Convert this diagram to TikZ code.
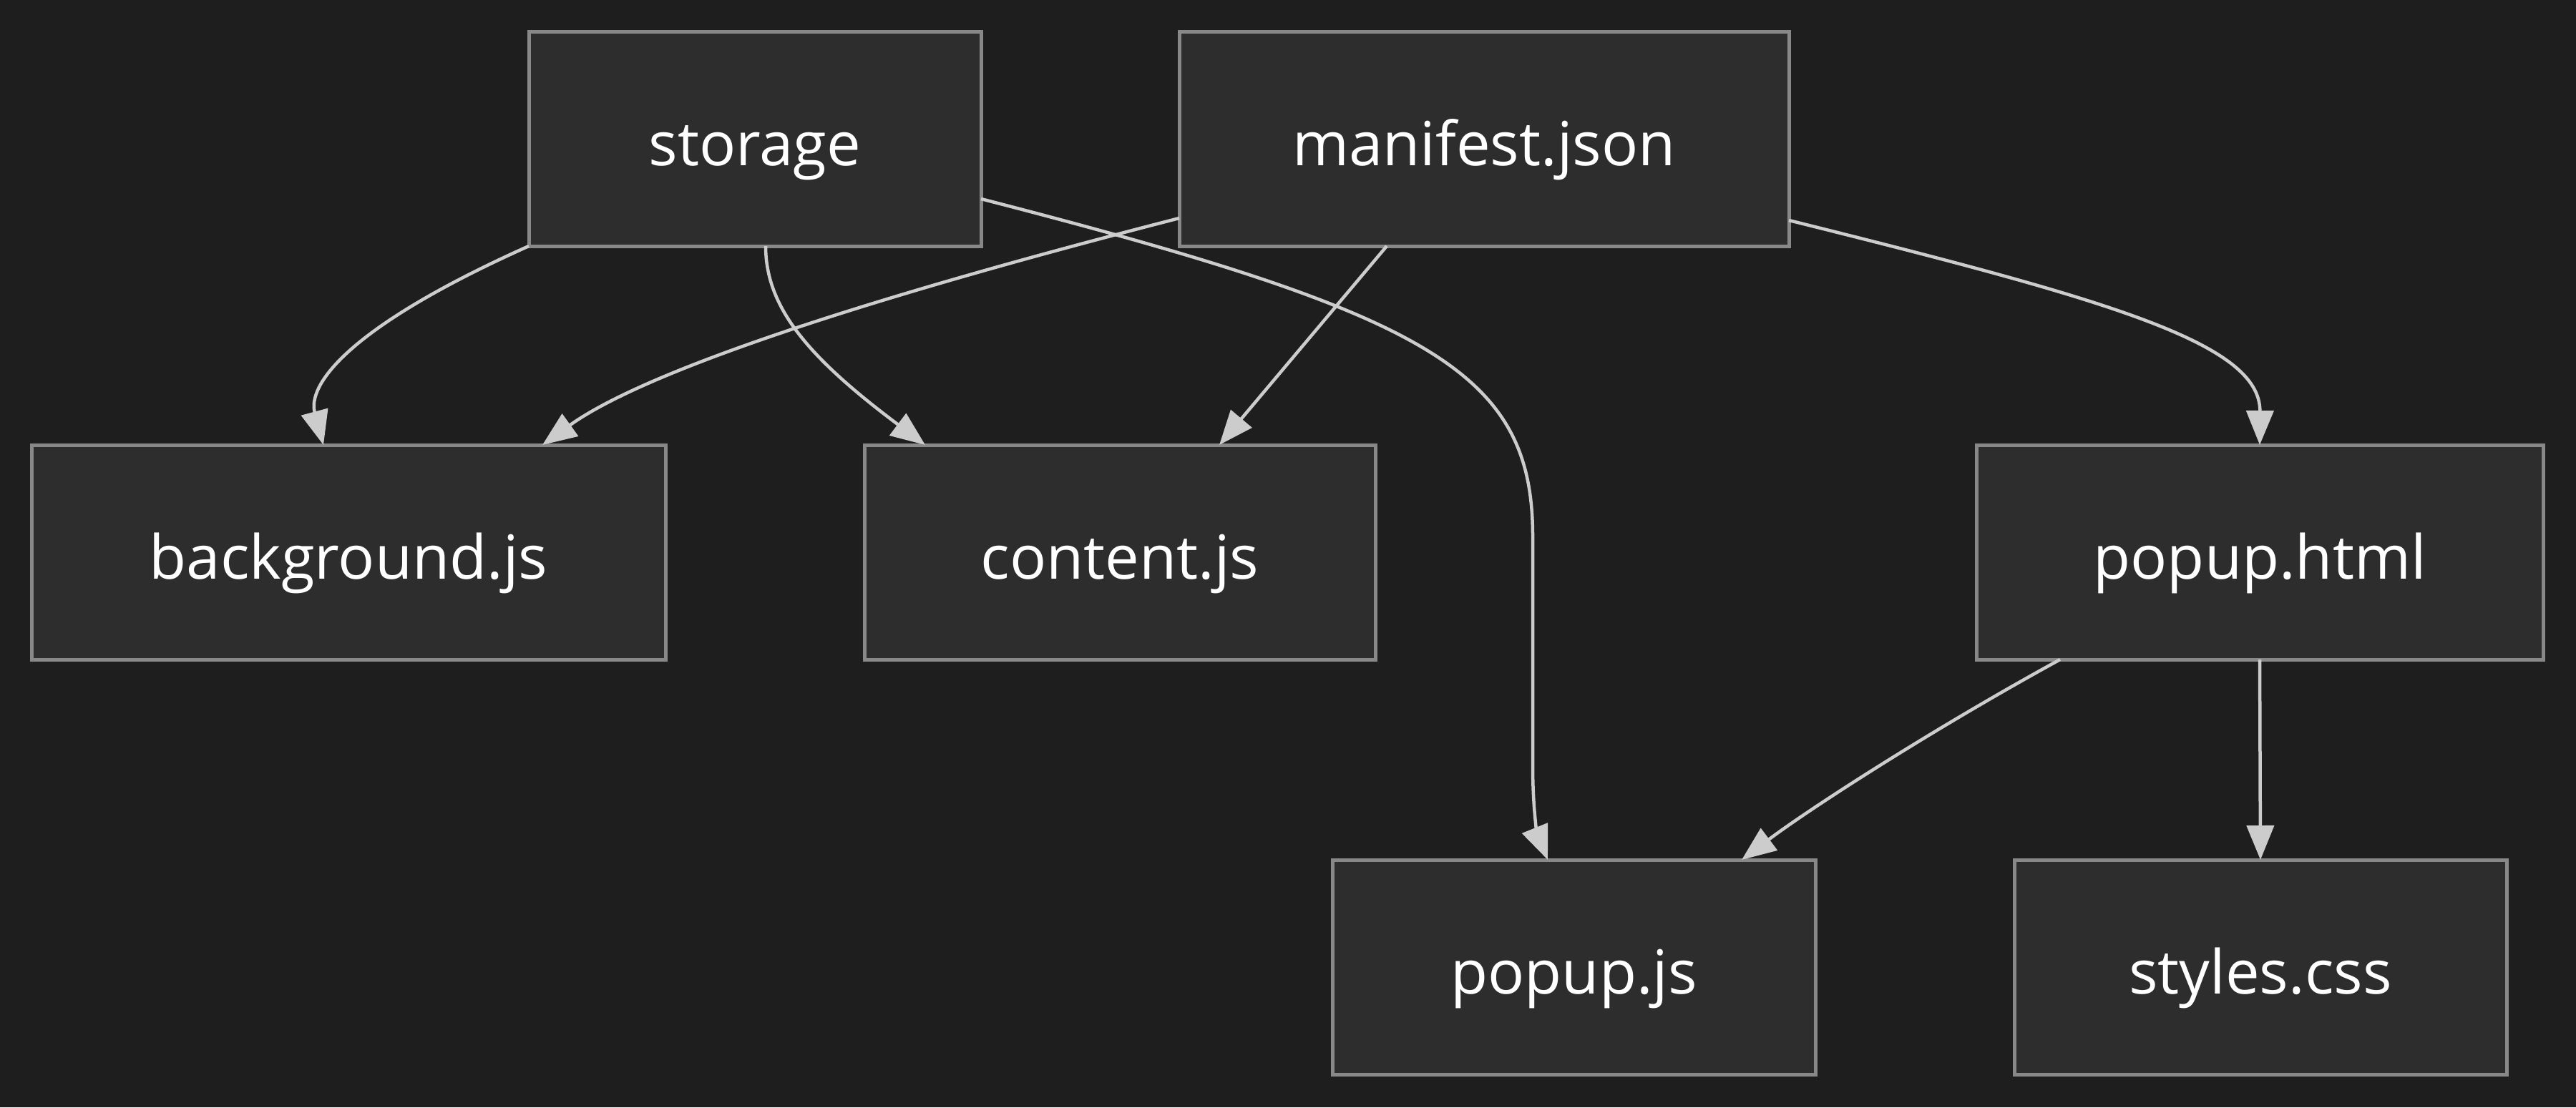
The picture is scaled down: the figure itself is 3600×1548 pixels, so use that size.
\documentclass[tikz,border=0pt]{standalone}
\usepackage{fontspec}
\setmainfont{Open Sans}
\usetikzlibrary{arrows.meta,calc}
\definecolor{bgc}{HTML}{1E1E1E}
\definecolor{boxfill}{HTML}{2D2D2D}
\definecolor{boxline}{HTML}{888888}
\definecolor{edgec}{HTML}{CCCCCC}
\begin{document}
\begin{tikzpicture}[x=1pt,y=-1pt,
  box/.style={draw=boxline,fill=boxfill,line width=5pt,minimum height=300pt,
    text=white,font=\fontsize{85}{100}\selectfont,inner sep=0pt,outer sep=0pt,
    text height=74pt,text depth=0pt},
  edge/.style={draw=edgec,line width=4.5pt,-{Triangle[length=48pt,width=38pt]}}]
\fill[bgc] (0,0) rectangle (3600,1548);
\useasboundingbox (0,0) rectangle (3600,1548);
\node[box,minimum width=632pt] (storage) at (1055,194) {storage};
\node[box,minimum width=852pt] (manifest) at (2074,194) {manifest.json};
\node[box,minimum width=886pt] (bg) at (487,772) {background.js};
\node[box,minimum width=714pt] (content) at (1565,772) {content.js};
\node[box,minimum width=792pt] (phtml) at (3158,772) {popup.html};
\node[box,minimum width=675pt] (pjs) at (2199.5,1352) {popup.js};
\node[box,minimum width=688pt] (styles) at (3159,1352) {styles.css};
% storage -> background
\draw[edge] (storage.south west) .. controls (480,460) and (430,540) .. ($(bg.north)+(-35,0)$);
% storage -> content
\draw[edge] ($(storage.south)+(15,0)$) .. controls (1070,430) and (1130,500) .. ($(content.north)+(-272,0)$);
% storage -> popup.js
\draw[edge] ($(storage.east)+(0,84)$) .. controls (2000,440) and (2142,520) .. (2142,750) -- (2142,1070) .. controls (2142,1140) and (2150,1170) .. ($(pjs.north)+(-36.5,0)$);
% manifest -> background
\draw[edge] ($(manifest.west)+(0,111)$) .. controls (1200,420) and (900,520) .. ($(bg.north)+(271,0)$);
% manifest -> content
\draw[edge] ($(manifest.south)+(-136,0)$) -- ($(content.north)+(139,0)$);
% manifest -> popup.html
\draw[edge] ($(manifest.east)+(0,114)$) .. controls (2950,420) and (3159,480) .. (phtml.north);
% popup.html -> popup.js
\draw[edge] ($(phtml.south)+(-279,0)$) .. controls (2700,1020) and (2530,1130) .. ($(pjs.north)+(234.5,0)$);
% popup.html -> styles
\draw[edge] (phtml.south) -- (styles.north);
\end{tikzpicture}
\end{document}
